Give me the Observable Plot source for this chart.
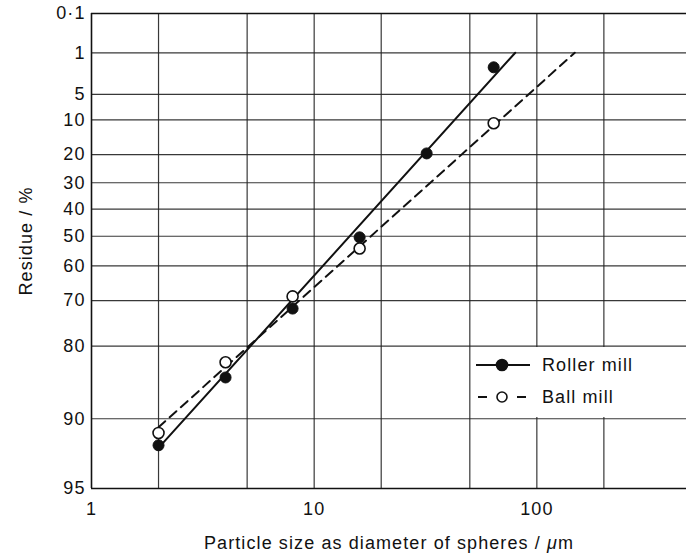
<!DOCTYPE html>
<html>
<head>
<meta charset="utf-8">
<script src="https://cdn.jsdelivr.net/npm/d3@7"></script>
<script src="https://cdn.jsdelivr.net/npm/@observablehq/plot@0.6"></script>
<style>
  html, body { margin: 0; padding: 0; background: #fff; }
  #chart { position: relative; width: 686px; height: 556px; font-family: "Liberation Sans", Arial, sans-serif; }
  #chart svg text { letter-spacing: 1.1px; }
  #legend { position: absolute; left: 472px; top: 347px; width: 214px; height: 70px; background: #fff; font-size: 18px; letter-spacing: 1.1px; color: #111; }
  .row { position: absolute; left: 0; height: 24px; display: flex; align-items: center; }
  .row svg { display: block; margin-right: 10px; }
</style>
</head>
<body>
<div id="chart"></div>
<script>
// ---- data ----
const rollerSize = [2, 4, 8, 16, 32, 64];
const rollerResidue = [92.3, 85.1, 72.0, 50.4, 19.6, 1.9];
const ballSize = [2, 4, 8, 16, 64];
const ballResidue = [91.3, 82.8, 68.9, 54.3, 10.8];
const rollerFitSize = [2, 80];
const rollerFitResidue = [92.5, 1];
const ballFitSize = [2, 148];
const ballFitResidue = [90.8, 1];
const residueTicks = [0.1, 1, 5, 10, 20, 30, 40, 50, 60, 70, 80, 90, 95];
const residueTickLabels = ["0\u00B71", "1", "5", "10", "20", "30", "40", "50", "60", "70", "80", "90", "95"];
const sizeTicks = [1, 10, 100];
const sizeGrid = [2, 5, 10, 20, 50, 100, 200];
const seriesNames = ["Roller mill", "Ball mill"];

// Rosin–Rammler transform of residue (%)
const rr = R => Math.log(Math.log(100 / R));
const rrTicks = residueTicks.map(rr);
const labelFor = v => {
  let bi = 0, bd = Infinity;
  rrTicks.forEach((t, i) => { const d = Math.abs(t - v); if (d < bd) { bd = d; bi = i; } });
  return residueTickLabels[bi];
};

const roller = rollerSize.map((s, i) => ({size: s, y: rr(rollerResidue[i])}));
const ball = ballSize.map((s, i) => ({size: s, y: rr(ballResidue[i])}));
const rollerFit = rollerFitSize.map((s, i) => ({size: s, y: rr(rollerFitResidue[i])}));
const ballFit = ballFitSize.map((s, i) => ({size: s, y: rr(ballFitResidue[i])}));

const chart = Plot.plot({
  width: 686,
  height: 556,
  marginLeft: 91,
  marginRight: 0,
  marginTop: 13,
  marginBottom: 68,
  style: {fontFamily: '"Liberation Sans", Arial, sans-serif', fontSize: "18px", color: "#111", background: "#fff", overflow: "visible"},
  x: {type: "log", domain: [1, 470]},
  y: {type: "linear", domain: [rr(95), rr(0.1)]},
  marks: [
    Plot.gridX(sizeGrid, {stroke: "#222", strokeOpacity: 0.9, strokeWidth: 1.2}),
    Plot.gridY(rrTicks, {stroke: "#222", strokeOpacity: 0.9, strokeWidth: 1.2}),
    Plot.axisX(sizeTicks, {tickSize: 0, tickPadding: 14, tickFormat: d => String(d),
      label: "Particle size as diameter of spheres / \u03BCm", labelAnchor: "center", labelArrow: "none", labelOffset: 60}),
    Plot.axisY(rrTicks, {tickSize: 0, tickPadding: 6, tickFormat: labelFor,
      label: "Residue / %", labelAnchor: "center", labelArrow: "none", labelOffset: 72}),
    Plot.ruleX([1], {stroke: "#111", strokeWidth: 1.6}),
    Plot.ruleY([rr(95), rr(0.1)], {stroke: "#111", strokeWidth: 1.6}),
    Plot.line(rollerFit, {x: "size", y: "y", stroke: "#111", strokeWidth: 2}),
    Plot.line(ballFit, {x: "size", y: "y", stroke: "#111", strokeWidth: 2, strokeDasharray: "9,6"}),
    Plot.dot(roller, {x: "size", y: "y", r: 5.5, fill: "#111", stroke: "#111", strokeWidth: 1}),
    Plot.dot(ball, {x: "size", y: "y", r: 5.5, fill: "#fff", stroke: "#111", strokeWidth: 1.6})
  ]
});

chart.querySelectorAll("text").forEach(t => {
  // italic mu in the x label
  if (t.textContent.startsWith("Particle")) {
    t.textContent = "";
    const a = document.createElementNS("http://www.w3.org/2000/svg", "tspan");
    a.textContent = "Particle size as diameter of spheres / ";
    const b = document.createElementNS("http://www.w3.org/2000/svg", "tspan");
    b.setAttribute("font-style", "italic");
    b.textContent = "\u03BC";
    const c = document.createElementNS("http://www.w3.org/2000/svg", "tspan");
    c.textContent = "m";
    t.append(a, b, c);
  }
  // nudge the y label slightly upward as in the reference
  if (t.textContent === "Residue / %") {
    const tr = t.getAttribute("transform") || "";
    t.setAttribute("transform", "translate(0,-10) " + tr);
  }
});

const root = document.getElementById("chart");
root.appendChild(chart);

// legend
const legend = document.createElement("div");
legend.id = "legend";
const mk = (name, i) => {
  const row = document.createElement("div");
  row.className = "row";
  row.style.top = (i === 0 ? 6 : 38) + "px";
  row.style.left = "2px";
  const line = i === 0
    ? '<line x1="2" y1="10" x2="56" y2="10" stroke="#111" stroke-width="2"/>'
    : '<line x1="4" y1="10" x2="52" y2="10" stroke="#111" stroke-width="2" stroke-dasharray="9,30,9"/>';
  const fill = i === 0 ? "#111" : "#fff";
  row.innerHTML = `<svg width="58" height="20">${line}<circle cx="28" cy="10" r="${i === 0 ? 5.5 : 5}" fill="${fill}" stroke="#111" stroke-width="1.6"/></svg><span>${name}</span>`;
  legend.appendChild(row);
};
seriesNames.forEach(mk);
root.appendChild(legend);
</script>
</body>
</html>
